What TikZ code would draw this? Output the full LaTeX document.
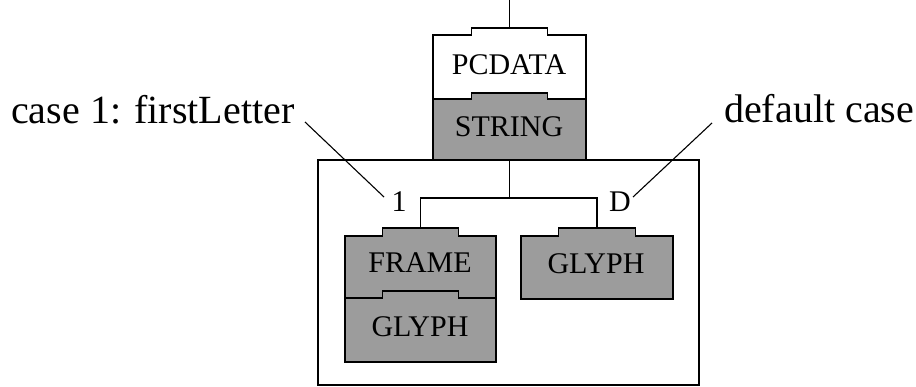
\documentclass[tikz,border=0pt]{standalone}
\usepackage{fontspec}
\setmainfont{Liberation Serif}
\definecolor{boxgray}{RGB}{156,156,156}

% outline of a box with a tab on its top edge: body node #1, tab node #2, fill #3
\newcommand\tabbedoutline[3]{%
  \path[draw=black, line width=1.3pt, line join=miter, fill=#3]
    (#1.south west) -- (#1.north west) -- (#2.south west) -- (#2.north west)
    -- (#2.north east) -- (#2.south east) -- (#1.north east) -- (#1.south east) -- cycle;}

\begin{document}
\begin{tikzpicture}[x=1pt, y=-1pt,
  shapebox/.style={rectangle, inner sep=0pt, outer sep=0pt, draw=none},
  boxlabel/.style={anchor=base, inner sep=0pt, font=\fontsize{30pt}{36pt}\selectfont},
  caption/.style={anchor=base west, inner sep=0pt, font=\fontsize{40pt}{48pt}\selectfont},
  wire/.style={draw=black, line width=1.3pt}]
  \useasboundingbox (0,0) rectangle (916,387);

  % enclosing frame for the two cases
  \node[shapebox, draw=black, line width=1.3pt, minimum width=381pt, minimum height=225pt] (cases) at (508.5,272.5) {};

  % PCDATA with its STRING part
  \node[shapebox, minimum width=153pt, minimum height=64pt] (pcdata) at (509.5,67) {};
  \node[shapebox, minimum width=76pt, minimum height=7pt, anchor=south] (pcdatatab) at (pcdata.north) {};
  \tabbedoutline{pcdata}{pcdatatab}{white}
  \node[shapebox, minimum width=153pt, minimum height=61pt] (string) at (509.5,129.5) {};
  \node[shapebox, minimum width=76pt, minimum height=6pt, anchor=south] (stringtab) at (string.north) {};
  \tabbedoutline{string}{stringtab}{boxgray}

  % case 1: FRAME over GLYPH
  \node[shapebox, minimum width=151pt, minimum height=62pt] (frame) at (420.5,267) {};
  \node[shapebox, minimum width=76pt, minimum height=8pt, anchor=south] (frametab) at (frame.north) {};
  \tabbedoutline{frame}{frametab}{boxgray}
  \node[shapebox, minimum width=151pt, minimum height=64pt] (glyphone) at (420.5,330) {};
  \node[shapebox, minimum width=76pt, minimum height=7pt, anchor=south] (glyphonetab) at (glyphone.north) {};
  \tabbedoutline{glyphone}{glyphonetab}{boxgray}

  % default case: GLYPH
  \node[shapebox, minimum width=152pt, minimum height=63pt] (glyphtwo) at (597,267.5) {};
  \node[shapebox, minimum width=77pt, minimum height=8pt, anchor=south] (glyphtwotab) at (glyphtwo.north) {};
  \tabbedoutline{glyphtwo}{glyphtwotab}{boxgray}

  % box texts
  \node[boxlabel] (pcdatatext) at (509,75) {PCDATA};
  \node[boxlabel] (stringtext) at (509,137) {STRING};
  \node[boxlabel] (frametext) at (420,273) {FRAME};
  \node[boxlabel] (glyphonetext) at (420,337) {GLYPH};
  \node[boxlabel] (glyphtwotext) at (596,274) {GLYPH};

  % case markers
  \node[boxlabel] (markone) at (399,212) {1};
  \node[boxlabel] (markd) at (620,212) {D};

  % captions
  \node[caption] (captionone) at (11,124) {case 1: firstLetter};
  \node[caption] (captiond) at (724,123) {default case};

  % connectors
  \coordinate (top) at (509.5,0);
  \coordinate (split) at (509.5,198);
  \draw[wire] (top) -- (pcdatatab.north);
  \draw[wire] (string.south) -- (split);
  \draw[wire] (split) -| (frametab.north);
  \draw[wire] (split) -| (glyphtwotab.north);

  % leader lines from captions to markers
  \coordinate (leadoneA) at (305,122);
  \coordinate (leadoneB) at (384,197);
  \coordinate (leaddA) at (712,123);
  \coordinate (leaddB) at (633,197);
  \draw[wire, line width=1.1pt] (leadoneA) -- (leadoneB);
  \draw[wire, line width=1.1pt] (leaddA) -- (leaddB);
\end{tikzpicture}
\end{document}
